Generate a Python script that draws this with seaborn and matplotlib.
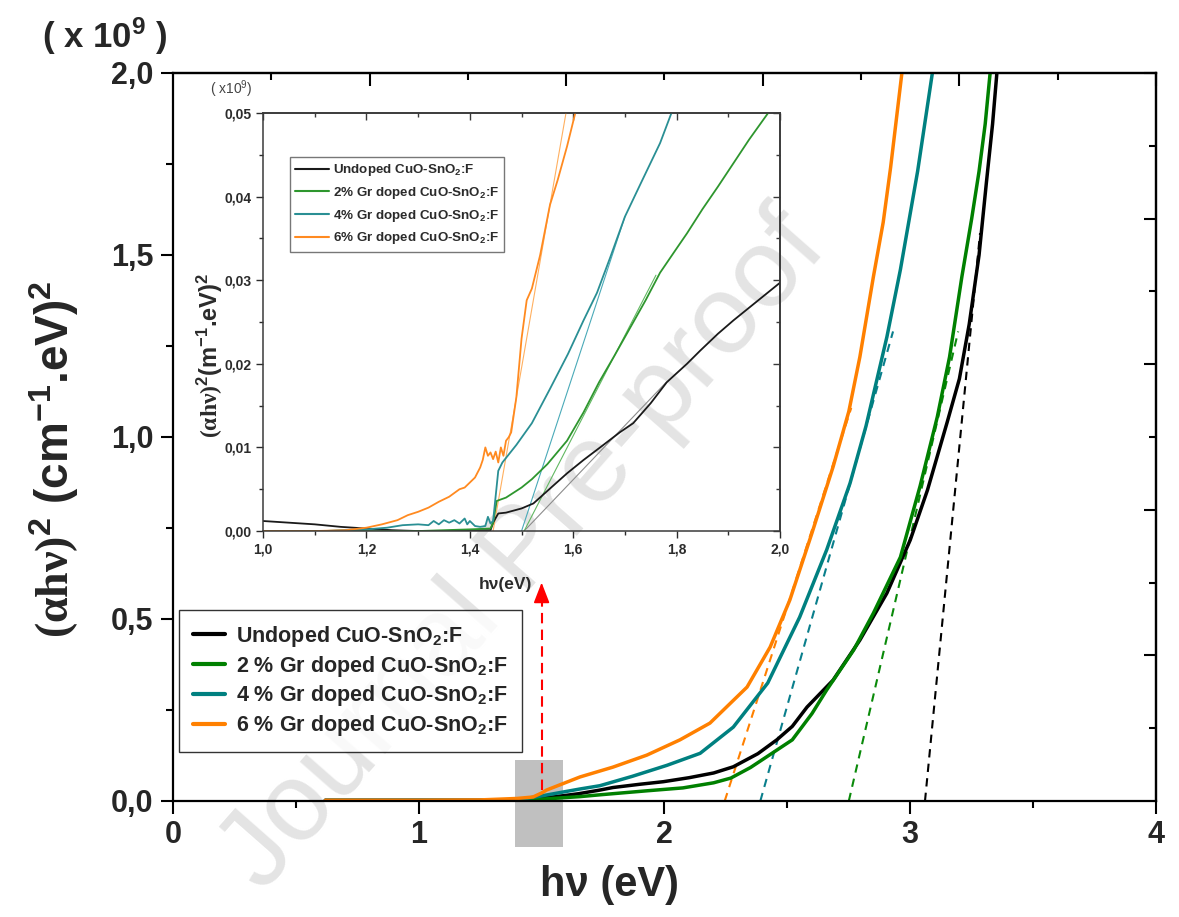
import numpy as np
import pandas as pd
import matplotlib
matplotlib.use('Agg')
import matplotlib.pyplot as plt
import seaborn as sns
from matplotlib.lines import Line2D
from matplotlib.patches import Rectangle
from matplotlib.ticker import FuncFormatter, FixedLocator, MultipleLocator

sns.set_theme(style='white')
plt.rcParams['font.family'] = ['Liberation Sans', 'DejaVu Sans']
plt.rcParams['font.weight'] = 'bold'
plt.rcParams['axes.labelweight'] = 'bold'
plt.rcParams['mathtext.fontset'] = 'custom'
plt.rcParams['mathtext.rm'] = 'Liberation Serif'
plt.rcParams['mathtext.it'] = 'Liberation Serif:italic'
plt.rcParams['mathtext.bf'] = 'Liberation Sans:bold'
plt.rcParams['mathtext.default'] = 'regular'

# ---------------- data: main plot ----------------
samples = ['Undoped', '2 %', '4 %', '6 %']
labels_main = ['Undoped CuO-SnO$_2$:F', '2 % Gr doped CuO-SnO$_2$:F',
               '4 % Gr doped CuO-SnO$_2$:F', '6 % Gr doped CuO-SnO$_2$:F']
labels_inset = ['Undoped CuO-SnO$_2$:F', '2% Gr doped CuO-SnO$_2$:F',
                '4% Gr doped CuO-SnO$_2$:F', '6% Gr doped CuO-SnO$_2$:F']

black_x = [0.62, 1.0, 1.3, 1.42, 1.5, 1.56, 1.65, 1.737, 1.79, 1.9, 1.995, 2.1, 2.2, 2.28,
           2.38, 2.457, 2.52, 2.58, 2.686, 2.795, 2.905, 3.0, 3.07, 3.15, 3.20, 3.24, 3.28,
           3.31, 3.335, 3.355]
black_y = [0.002, 0.002, 0.002, 0.004, 0.008, 0.012, 0.02, 0.03, 0.037, 0.046, 0.053, 0.064,
           0.077, 0.094, 0.13, 0.168, 0.205, 0.258, 0.332, 0.442, 0.571, 0.717, 0.854, 1.04,
           1.16, 1.31, 1.50, 1.70, 1.86, 2.02]
green_x = [0.62, 1.0, 1.3, 1.42, 1.5, 1.656, 1.737, 1.928, 2.075, 2.2, 2.27, 2.35, 2.415, 2.52,
           2.60, 2.66, 2.77, 2.85, 2.96, 3.04, 3.11, 3.16, 3.21, 3.25, 3.28, 3.305, 3.325, 3.34]
green_y = [0.001, 0.001, 0.001, 0.002, 0.005, 0.012, 0.017, 0.028, 0.036, 0.05, 0.063, 0.092,
           0.121, 0.168, 0.24, 0.305, 0.415, 0.516, 0.67, 0.865, 1.055, 1.22, 1.44, 1.60, 1.73,
           1.86, 2.0, 2.1]
teal_x = [0.62, 1.0, 1.3, 1.42, 1.5, 1.656, 1.737, 1.87, 2.01, 2.145, 2.28, 2.42, 2.55, 2.66,
          2.755, 2.82, 2.905, 2.96, 3.03, 3.09, 3.11]
teal_y = [0.002, 0.002, 0.002, 0.005, 0.014, 0.033, 0.042, 0.068, 0.098, 0.131, 0.203, 0.324,
          0.505, 0.69, 0.873, 1.03, 1.275, 1.46, 1.73, 2.0, 2.1]
orange_x = [0.62, 1.0, 1.25, 1.40, 1.465, 1.50, 1.52, 1.656, 1.79, 1.928, 2.063, 2.185, 2.336,
            2.43, 2.51, 2.60, 2.686, 2.75, 2.795, 2.85, 2.89, 2.92, 2.966, 2.99]
orange_y = [0.002, 0.002, 0.003, 0.007, 0.011, 0.022, 0.03, 0.066, 0.093, 0.126, 0.168, 0.214,
            0.313, 0.423, 0.552, 0.736, 0.918, 1.07, 1.22, 1.44, 1.59, 1.74, 2.0, 2.12]

# linear (Tauc) fits: x-intercept -> upper end
fit_x = {'Undoped': [3.06, 3.284], '2 %': [2.75, 3.195], '4 %': [2.39, 2.93], '6 %': [2.245, 2.76]}
fit_y = {'Undoped': [0.0, 1.56], '2 %': [0.0, 1.29], '4 %': [0.0, 1.29], '6 %': [0.0, 1.08]}

# ---------------- data: inset ----------------
in_black_x = [1.0, 1.05, 1.1, 1.15, 1.2, 1.25, 1.3, 1.35, 1.4, 1.44, 1.445, 1.455, 1.47, 1.50,
              1.523, 1.55, 1.588, 1.62, 1.652, 1.69, 1.716, 1.75, 1.781, 1.82, 1.846, 1.88,
              1.91, 1.95, 2.0]
in_black_y = [0.0012, 0.0010, 0.0008, 0.0005, 0.0003, 0.0001, 0.0, 0.0, 0.0001, 0.0001, 0.0010,
              0.0021, 0.0022, 0.0027, 0.0033, 0.0048, 0.0069, 0.0085, 0.0100, 0.0118, 0.0129,
              0.0153, 0.0178, 0.0200, 0.0216, 0.0236, 0.0252, 0.0272, 0.0297]
in_green_x = [1.0, 1.1, 1.2, 1.3, 1.4, 1.44, 1.445, 1.452, 1.47, 1.50, 1.52, 1.55, 1.588, 1.62,
              1.65, 1.68, 1.70, 1.74, 1.768, 1.80, 1.82, 1.85, 1.88, 1.91, 1.94, 1.977]
in_green_y = [0.0, 0.0, 0.0, 0.0, 0.0002, 0.0003, 0.0010, 0.0036, 0.0040, 0.0052, 0.0062, 0.0080,
              0.0108, 0.0142, 0.0178, 0.0210, 0.0232, 0.0276, 0.0309, 0.0338, 0.0356, 0.0385,
              0.0412, 0.0440, 0.0468, 0.0500]
in_teal_x = [1.12, 1.15, 1.2, 1.24, 1.27, 1.30, 1.32, 1.33, 1.34, 1.35, 1.36, 1.37, 1.38, 1.39,
             1.395, 1.40, 1.41, 1.42, 1.43, 1.435, 1.44, 1.445, 1.45, 1.455, 1.463, 1.49, 1.52,
             1.555, 1.59, 1.62, 1.646, 1.672, 1.70, 1.73, 1.768, 1.79]
in_teal_y = [0.0, 0.0001, 0.0002, 0.0004, 0.0007, 0.0008, 0.0007, 0.0012, 0.0008, 0.0013, 0.0010,
             0.0013, 0.0009, 0.0015, 0.0008, 0.0012, 0.0006, 0.0005, 0.0006, 0.0017, 0.0009,
             0.0012, 0.0042, 0.0072, 0.0082, 0.0103, 0.0129, 0.0170, 0.0212, 0.0252, 0.0285,
             0.0328, 0.0376, 0.0415, 0.0464, 0.0500]
in_orange_x = [1.0, 1.1, 1.16, 1.2, 1.23, 1.26, 1.28, 1.30, 1.32, 1.34, 1.36, 1.38, 1.39, 1.40,
               1.41, 1.42, 1.425, 1.43, 1.435, 1.44, 1.445, 1.45, 1.455, 1.46, 1.465, 1.47,
               1.475, 1.48, 1.49, 1.50, 1.51, 1.52, 1.536, 1.555, 1.57, 1.588, 1.604]
in_orange_y = [0.0, 0.0, 0.0001, 0.0004, 0.0008, 0.0013, 0.0019, 0.0023, 0.0028, 0.0035, 0.0041,
               0.0050, 0.0052, 0.0058, 0.0064, 0.0076, 0.0085, 0.0100, 0.0090, 0.0094, 0.0086,
               0.0095, 0.0082, 0.0100, 0.0090, 0.0108, 0.0112, 0.0118, 0.0160, 0.0230, 0.0276,
               0.0290, 0.0330, 0.0390, 0.0420, 0.0460, 0.0500]
in_fit_x = {'Undoped': [1.505, 1.78], '2 %': [1.505, 1.76], '4 %': [1.50, 1.70], '6 %': [1.445, 1.586]}
in_fit_y = {'Undoped': [0.0, 0.0178], '2 %': [0.0, 0.0306], '4 %': [0.0, 0.0376], '6 %': [0.0, 0.050]}

main_colors = {'Undoped': '#000000', '2 %': '#008000', '4 %': '#008080', '6 %': '#ff8000'}
dash_colors = {'Undoped': '#000000', '2 %': '#0a8a0a', '4 %': '#0a7f8c', '6 %': '#ff8000'}
inset_colors = {'Undoped': '#1a1a1a', '2 %': '#2e962e', '4 %': '#2a8f94', '6 %': '#ff8a20'}
fit_colors = {'Undoped': '#8c8c8c', '2 %': '#62b862', '4 %': '#4aaab8', '6 %': '#ffb060'}

main_df = pd.concat([
    pd.DataFrame({'hv': black_x, 'a': black_y, 'sample': 'Undoped'}),
    pd.DataFrame({'hv': green_x, 'a': green_y, 'sample': '2 %'}),
    pd.DataFrame({'hv': teal_x, 'a': teal_y, 'sample': '4 %'}),
    pd.DataFrame({'hv': orange_x, 'a': orange_y, 'sample': '6 %'}),
], ignore_index=True)
fit_df = pd.concat([pd.DataFrame({'hv': fit_x[s], 'a': fit_y[s], 'sample': s}) for s in samples],
                   ignore_index=True)
inset_df = pd.concat([
    pd.DataFrame({'hv': in_black_x, 'a': in_black_y, 'sample': 'Undoped'}),
    pd.DataFrame({'hv': in_green_x, 'a': in_green_y, 'sample': '2 %'}),
    pd.DataFrame({'hv': in_teal_x, 'a': in_teal_y, 'sample': '4 %'}),
    pd.DataFrame({'hv': in_orange_x, 'a': in_orange_y, 'sample': '6 %'}),
], ignore_index=True)
in_fit_df = pd.concat([pd.DataFrame({'hv': in_fit_x[s], 'a': in_fit_y[s], 'sample': s})
                       for s in samples], ignore_index=True)

# ---------------- figure ----------------
fig = plt.figure(figsize=(11.79, 9.17), dpi=100, facecolor='white')
ax = fig.add_axes([0.1467, 0.1265, 0.8338, 0.7939])
ax.set_facecolor('none')

fig.text(524 / 1179, 1 - 552 / 917, 'Journal Pre-proof', rotation=48.7, fontsize=80,
         color='#e4e4e4', ha='center', va='center', fontweight='normal', zorder=-5)

# fits (dashed)
sns.lineplot(data=fit_df, x='hv', y='a', hue='sample', hue_order=samples, palette=dash_colors,
             estimator=None, sort=False, legend=False, ax=ax, lw=1.5)
for ln in ax.lines:
    ln.set_dashes((4, 3))
sns.lineplot(data=main_df, x='hv', y='a', hue='sample', hue_order=samples, palette=main_colors,
             estimator=None, sort=False, legend=False, ax=ax, lw=2.5)

ax.set_xlim(0, 4)
ax.set_ylim(0, 2.0)
ax.xaxis.set_major_locator(MultipleLocator(1))
ax.xaxis.set_minor_locator(MultipleLocator(0.5))
ax.yaxis.set_major_locator(MultipleLocator(0.5))
ax.yaxis.set_minor_locator(MultipleLocator(0.25))
ax.xaxis.set_major_formatter(FuncFormatter(lambda v, p: '{:.0f}'.format(v)))
ax.yaxis.set_major_formatter(FuncFormatter(lambda v, p: '{:.1f}'.format(v).replace('.', ',')))
ax.tick_params(which='major', direction='out', length=9, width=1.5, labelsize=22, pad=5,
               top=False, right=False, bottom=True, left=True, color='black')
ax.tick_params(which='minor', direction='out', length=5, width=1.5, top=False, right=False,
               bottom=True, left=True, color='black')
for sp in ax.spines.values():
    sp.set_color('black')
    sp.set_linewidth(1.6)

secx = ax.secondary_xaxis('top')
secx.set_xticks([0.8, 1.6, 2.4, 3.2, 4.0])
secx.xaxis.set_minor_locator(FixedLocator([0.4, 1.2, 2.0, 2.8, 3.6]))
secx.tick_params(which='both', direction='in', labeltop=False, width=1.5, color='black')
secx.tick_params(which='major', length=9)
secx.tick_params(which='minor', length=5)
secx.spines['top'].set_linewidth(1.6)
secy = ax.secondary_yaxis('right')
secy.set_yticks([0.4, 0.8, 1.2, 1.6, 2.0])
secy.yaxis.set_minor_locator(FixedLocator([0.2, 0.6, 1.0, 1.4, 1.8]))
secy.tick_params(which='both', direction='in', labelright=False, width=1.5, color='black')
secy.tick_params(which='major', length=9)
secy.tick_params(which='minor', length=5)
secy.spines['right'].set_linewidth(1.6)

ax.set_xlabel('hν (eV)', fontsize=30, fontweight='bold')
ax.xaxis.set_label_coords((610 - 173) / 983, -0.088)
ax.set_ylabel(r'$\mathrm{(\alpha h\nu)}^2$ (cm$^{-1}$.eV)$^2$', fontsize=33, fontweight='bold')
ax.yaxis.set_label_coords(-0.094, 0.47)
fig.text(105 / 1179, 1 - 36 / 917, '( x 10$^9$ )', fontsize=25, ha='center', va='center',
         fontweight='bold')

# gray zoom box and red arrow
ax.add_patch(Rectangle((1.39, -0.126), 0.197, 0.239, facecolor='#c0c0c0', edgecolor='none',
                       clip_on=False, zorder=1.2))
ax.plot([1.5, 1.5], [0.03, 0.56], color='red', lw=1.5, ls=(0, (5, 3)), zorder=3)
ax.annotate('', xy=(1.5, 0.6), xytext=(1.5, 0.555),
            arrowprops=dict(arrowstyle='-|>,head_length=0.9,head_width=0.35', color='red',
                            lw=1.2, shrinkA=0, shrinkB=0, mutation_scale=14), zorder=3)

handles = [Line2D([0], [0], color=main_colors[s], lw=3) for s in samples]
leg = ax.legend(handles, labels_main, loc='lower left', bbox_to_anchor=(0.006, 0.067),
                borderaxespad=0, fontsize=15.5, frameon=True, fancybox=False,
                edgecolor='black', handlelength=1.5, handletextpad=0.5, labelspacing=0.22,
                borderpad=0.65)
leg.get_frame().set_linewidth(1.0)

# ---------------- inset ----------------
ins = fig.add_axes([0.2231, 0.4209, 0.4385, 0.4559])
ins.set_facecolor('none')
sns.lineplot(data=in_fit_df, x='hv', y='a', hue='sample', hue_order=samples, palette=fit_colors,
             estimator=None, sort=False, legend=False, ax=ins, lw=0.8)
sns.lineplot(data=inset_df, x='hv', y='a', hue='sample', hue_order=samples, palette=inset_colors,
             estimator=None, sort=False, legend=False, ax=ins, lw=1.3)
ins.set_xlim(1.0, 2.0)
ins.set_ylim(0, 0.05)
ins.xaxis.set_major_locator(MultipleLocator(0.2))
ins.xaxis.set_minor_locator(MultipleLocator(0.1))
ins.yaxis.set_major_locator(MultipleLocator(0.01))
ins.yaxis.set_minor_locator(MultipleLocator(0.005))
ins.xaxis.set_major_formatter(FuncFormatter(lambda v, p: '{:.1f}'.format(v).replace('.', ',')))
ins.yaxis.set_major_formatter(FuncFormatter(lambda v, p: '{:.2f}'.format(v).replace('.', ',')))
tc = '#2b2b2b'
ins.tick_params(which='major', direction='out', length=5, width=1.0, labelsize=10,
                colors=tc, pad=3, top=False, right=False, bottom=True, left=True)
ins.tick_params(which='minor', direction='out', length=3, width=1.0, colors=tc,
                top=False, right=False, bottom=True, left=True)
for sp in ins.spines.values():
    sp.set_color('#3a3a3a')
    sp.set_linewidth(1.1)
isx = ins.secondary_xaxis('top')
isx.xaxis.set_major_locator(MultipleLocator(0.2))
isx.xaxis.set_minor_locator(MultipleLocator(0.1))
isx.tick_params(which='both', direction='in', labeltop=False, width=1.0, colors='#3a3a3a')
isx.tick_params(which='major', length=5)
isx.tick_params(which='minor', length=3)
isx.spines['top'].set_color('#3a3a3a')
isy = ins.secondary_yaxis('right')
isy.yaxis.set_major_locator(MultipleLocator(0.01))
isy.yaxis.set_minor_locator(MultipleLocator(0.005))
isy.tick_params(which='both', direction='in', labelright=False, width=1.0, colors='#3a3a3a')
isy.tick_params(which='major', length=5)
isy.tick_params(which='minor', length=3)
isy.spines['right'].set_color('#3a3a3a')

ins.set_xlabel('hν(eV)', fontsize=12.5, color=tc, fontweight='bold')
ins.xaxis.set_label_coords(0.468, -0.11)
ins.set_ylabel(r'$\mathrm{(\alpha h\nu)}^2$(m$^{-1}$.eV)$^2$', fontsize=17, color=tc,
               fontweight='bold')
ins.yaxis.set_label_coords(-0.074, 0.42)
fig.text(231 / 1179, 1 - 89 / 917, '( x10$^9$)', fontsize=10, color='#444444',
         ha='center', va='center', fontweight='normal')

ihandles = [Line2D([0], [0], color=inset_colors[s], lw=1.5) for s in samples]
ileg = ins.legend(ihandles, labels_inset, loc='upper left', bbox_to_anchor=(0.052, 0.895),
                  borderaxespad=0, fontsize=9.6, frameon=True, fancybox=False,
                  edgecolor='#555555', handlelength=2.5, handletextpad=0.3, labelspacing=0.5,
                  borderpad=0.4)
for t in ileg.get_texts():
    t.set_color(tc)
ileg.get_frame().set_linewidth(1.0)

fig.savefig('out.png', dpi=100, facecolor='white')
